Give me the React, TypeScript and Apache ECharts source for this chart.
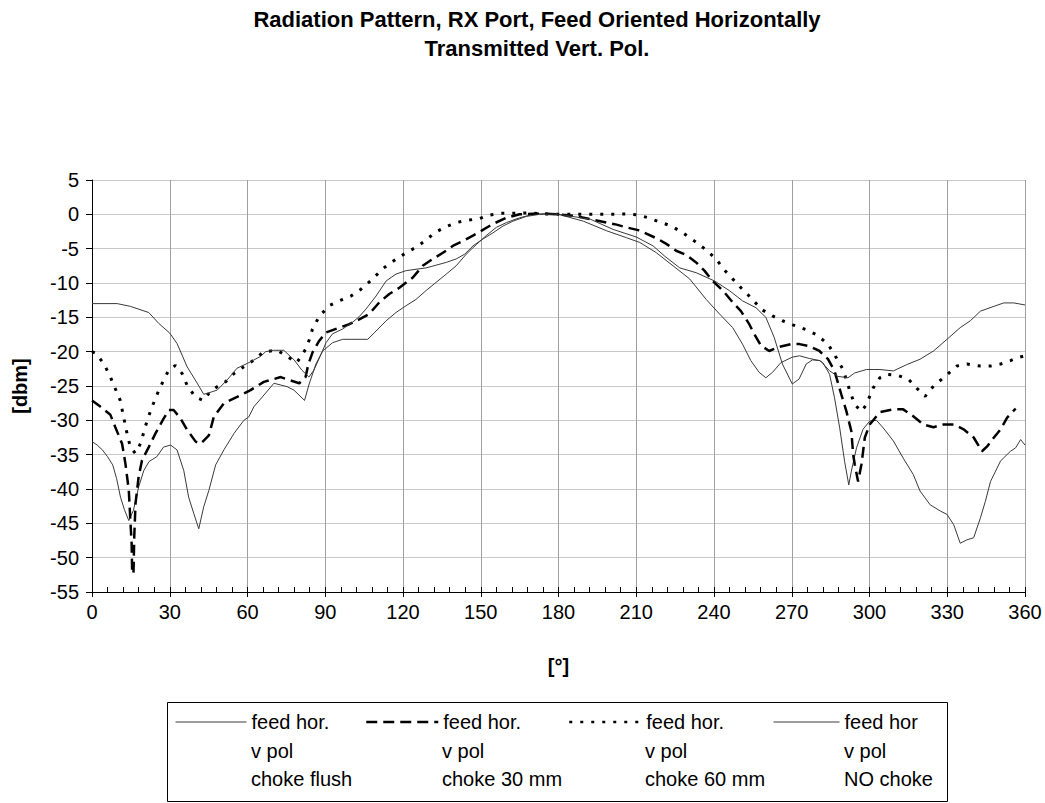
import React, { useEffect, useRef } from "react";
import * as echarts from "echarts";

const FONT = '"Liberation Sans", Arial, Helvetica, sans-serif';

const titleLines = [
  "Radiation Pattern, RX Port, Feed Oriented Horizontally",
  "Transmitted Vert. Pol.",
];

// ---- series: feed hor. / v pol / choke flush (thin solid) ----
const flushAngles = [
  0, 2, 4, 6, 8, 9.5, 11, 12.5, 14.2, 16, 18, 20, 22, 25, 27.6, 30.3, 32.8, 35.4, 37.3, 39.3,
  41.2, 43.1, 45.1, 47.7, 50.9, 54.8, 58.6, 60.5, 62.5, 65.7, 70.2, 75.3, 77.9, 82, 83.8, 86.4,
  89, 92.8, 96.7, 100, 106.4, 109.6, 113.5, 117.3, 121.2, 125, 128.9, 132.8, 136.7, 140.5,
  144.4, 148.3, 152.1, 156, 159.9, 165, 170.2, 175, 180, 189.6, 198.6, 206.2, 211.4, 217.8,
  224.2, 230.6, 237, 242.1, 247.2, 251, 254.2, 257.4, 260, 262.6, 265.8, 270.2, 273, 276.9,
  280.7, 282, 284.6, 286.5, 288.5, 290.4, 292, 293, 295, 297.5, 300.1, 302.7, 305.3, 309.2,
  313, 316.9, 319.5, 323.4, 327.3, 329.9, 332.5, 335, 337.6, 340.2, 342.8, 344.7, 346.7,
  350.6, 354.4, 356.4, 358.3, 360,
];
const flushValues = [
  -33.1, -33.6, -34.3, -35.3, -36.5, -38.5, -41.2, -43.0, -44.6, -43.1, -39.7, -37.3, -36.0,
  -35.3, -33.9, -33.6, -34.3, -37.3, -41.2, -43.6, -45.8, -42.6, -40.2, -36.5, -34.3, -31.9,
  -30.0, -29.5, -28.0, -26.6, -24.6, -25.1, -25.6, -27.1, -24.7, -21.8, -19.9, -18.7, -18.2,
  -18.2, -18.2, -17.0, -15.5, -14.3, -13.3, -12.4, -11.1, -9.9, -8.7, -7.5, -5.8, -4.4, -3.1,
  -1.9, -1.2, -0.5, 0, 0.1, 0, -1.0, -2.4, -3.4, -4.1, -5.6, -7.5, -9.4, -12.4, -14.5, -16.5,
  -18.9, -21.3, -23.0, -23.8, -23.0, -21.6, -20.8, -20.6, -21.0, -21.3, -21.6, -23.3, -26.7,
  -31.1, -36.0, -39.4, -37.4, -34.0, -31.3, -30.1, -30.0, -31.1, -33.0, -35.5, -37.9, -40.3,
  -42.3, -43.2, -43.7, -45.2, -47.9, -47.4, -47.1, -44.2, -41.8, -38.9, -35.9, -34.5, -34.0,
  -32.8, -33.6,
];

// ---- series: choke 30 mm (dashed) ----
const choke30Angles = [
  0, 3.2, 7.1, 9, 11.6, 12.9, 14.2, 14.8, 15.3, 15.5, 16.0, 16.3, 16.8, 18, 19.3, 21.9, 24.5,
  27.7, 29.6, 31.5, 34.1, 36.7, 40, 41.9, 45.1, 47, 50.9, 56, 61.2, 66.3, 72.8, 76.6, 80, 82.4,
  83.5, 85.1, 87.7, 90.3, 95.4, 99.3, 103.1, 107, 110.9, 114.7, 118.6, 123.8, 127.6, 131.5,
  135.4, 139.2, 143.1, 147, 150.2, 154.7, 159.9, 165, 170.2, 175.3, 180, 185.8, 192.2, 202.4,
  206.2, 210.7, 213.9, 218.4, 221.6, 225.4, 229.3, 233.1, 236.3, 239.5, 243.4, 247.2, 250.4,
  253.6, 255.5, 258.1, 261.3, 265.1, 269.6, 273, 276.9, 280.7, 284, 286.5, 289.1, 291.1, 293,
  293.7, 294.3, 295.6, 296.9, 298.2, 300.1, 304, 309.2, 313, 316.9, 320.8, 324.7, 328.6, 332.5,
  336.3, 340.2, 343.4, 345.4, 348, 350.6, 353.1, 356.4,
];
const choke30Values = [
  -27.1, -28.0, -29.2, -31.0, -33.4, -36.3, -40.2, -44.6, -48.0, -52.3, -52.3, -47.0, -42.1,
  -38.2, -35.8, -33.9, -31.9, -29.7, -28.5, -28.5, -29.7, -31.4, -33.1, -33.4, -32.2, -29.5,
  -27.5, -26.6, -25.6, -24.4, -23.7, -24.2, -24.6, -23.7, -21.8, -20.1, -18.4, -17.2, -16.5,
  -16.0, -15.3, -14.5, -12.8, -11.6, -10.7, -9.2, -7.5, -6.5, -5.6, -4.6, -3.9, -3.1, -2.4,
  -1.4, -0.5, 0, 0.1, 0.1, 0, -0.2, -0.7, -1.5, -1.9, -2.3, -2.8, -3.6, -4.3, -5.3, -5.9, -7.0,
  -8.2, -9.7, -11.1, -12.8, -14.1, -16.0, -17.4, -19.1, -19.9, -19.3, -18.9, -18.9, -19.2,
  -19.9, -21.1, -22.8, -26.2, -28.7, -31.6, -35.0, -36.4, -38.9, -36.4, -32.5, -30.6, -28.8,
  -28.4, -28.4, -29.4, -30.6, -31.0, -30.6, -30.6, -31.3, -32.5, -34.5, -33.8, -32.5, -31.3,
  -29.6, -28.3,
];

// ---- series: choke 60 mm (dotted) ----
const choke60Angles = [
  0, 1.3, 4.5, 7.1, 9, 10.9, 12.2, 13.5, 14.8, 16.7, 18.7, 21.3, 23.2, 25.8, 27.7, 29.6, 32.2,
  34.8, 36.7, 39.9, 43, 45.7, 48.3, 51.5, 54.7, 58.6, 62.5, 66.3, 71.5, 75.3, 79, 81, 82.5,
  83.8, 85, 87.6, 91.5, 95.4, 99.9, 103.8, 108.3, 112.2, 116.7, 121.2, 125, 128.7, 132.2, 136,
  140.5, 144.4, 149.6, 153.4, 157.9, 162.4, 167.6, 172.8, 178, 185, 193.4, 201.8, 206.2, 210.7,
  214.6, 219, 223.5, 228, 232.5, 237, 240.8, 244, 247.2, 250.4, 254.9, 258.1, 262.6, 266.4,
  270.4, 275.6, 279.4, 284, 287.2, 289.8, 292.4, 294.3, 296.9, 298.8, 301.4, 304, 306.6, 310.5,
  315, 318.2, 321.5, 324.7, 329.2, 333.7, 337.6, 342.8, 346.7, 350.6, 354.4, 357, 360,
];
const choke60Values = [
  -20.0, -20.2, -21.7, -23.7, -25.4, -27.1, -29.5, -31.9, -33.9, -34.8, -33.4, -30.0, -28.0,
  -25.6, -24.1, -22.7, -22.0, -23.2, -24.9, -26.6, -27.1, -25.8, -25.1, -24.4, -23.2, -22.2,
  -21.2, -20.0, -19.8, -20.7, -21.6, -20.5, -19.6, -18.3, -16.8, -14.9, -13.3, -12.6, -11.9,
  -10.9, -9.4, -7.9, -6.7, -5.6, -4.8, -3.8, -2.7, -1.9, -1.2, -0.9, -0.6, -0.1, 0.15, 0.15,
  0.2, 0.1, 0, 0, 0, 0, 0.05, -0.1, -0.5, -1.1, -1.7, -2.7, -3.9, -5.2, -6.5, -8.1, -9.4,
  -10.7, -12.4, -13.8, -14.8, -15.5, -16.1, -16.8, -17.5, -18.9, -20.9, -22.6, -25.7, -27.7,
  -28.7, -27.7, -25.3, -23.8, -23.3, -23.4, -24.0, -25.3, -26.5, -25.0, -23.6, -22.1, -21.8,
  -22.1, -22.1, -21.8, -21.3, -20.9, -20.6,
];

// ---- series: NO choke (thin solid) ----
const noChokeAngles = [
  0, 5, 9.7, 14.8, 21.9, 25.8, 30, 32.8, 36.7, 40.6, 43.1, 45, 48.3, 52.2, 56, 60, 65, 67, 70,
  74, 78, 81, 83.7, 85.6, 88, 90.3, 92.8, 96.7, 100.6, 103.1, 105.7, 109.6, 113.5, 117.3, 121.2,
  125, 128.9, 132.8, 136.7, 140.5, 143.8, 147, 150.8, 154.7, 158.6, 162.4, 167.6, 172.8, 178,
  180, 192.2, 201.1, 210, 216.5, 221, 226.8, 233.1, 240.2, 245.9, 251, 256.2, 260, 263.2,
  266.4, 270.2, 272.8, 275.6, 278, 281, 284.6, 287.8, 291.7, 294.3, 298.8, 304, 309.2, 314.3,
  319.5, 324.7, 329.9, 335, 338.9, 342.8, 348, 351.8, 355.7, 360,
];
const noChokeValues = [
  -13.0, -13.0, -13.0, -13.4, -14.3, -15.9, -17.3, -18.8, -22.2, -24.6, -26.2, -26.0, -25.6,
  -24.1, -22.4, -21.7, -20.7, -20.0, -19.8, -19.8, -21.2, -22.7, -23.7, -22.7, -20.7, -18.7,
  -17.4, -16.7, -15.7, -14.9, -13.8, -11.9, -9.7, -8.7, -8.2, -8.0, -7.8, -7.4, -7.0, -6.5,
  -5.8, -4.6, -3.6, -2.7, -1.7, -1.0, -0.3, 0, 0.05, 0, -0.7, -2.2, -3.3, -4.6, -6.1, -7.8,
  -8.5, -9.7, -11.1, -12.6, -13.6, -15.0, -17.9, -21.8, -24.7, -24.0, -21.8, -21.2, -21.3,
  -22.8, -23.6, -23.8, -23.1, -22.6, -22.6, -22.8, -21.9, -21.1, -19.9, -18.2, -16.5, -15.5,
  -14.1, -13.4, -12.9, -12.9, -13.2,
];

const seriesNames = ["choke flush", "choke 30 mm", "choke 60 mm", "NO choke"];
const legendLine1 = ["feed hor.", "feed hor.", "feed hor.", "feed hor"];
const legendLine2 = ["v pol", "v pol", "v pol", "v pol"];
const legendLine3 = ["choke flush", "choke 30 mm", "choke 60 mm", "NO choke"];

const zip = (a: number[], b: number[]) => a.map((x, i) => [x, b[i]]);

export default function App() {
  const ref = useRef<HTMLDivElement>(null);

  useEffect(() => {
    if (!ref.current) return;
    const chart = echarts.init(ref.current, null, { renderer: "svg" });

    const legendCols = [
      { left: 175, w: 71, lw: 1 },
      { left: 365, w: 72, lw: 2.5 },
      { left: 568, w: 72, lw: 2.5 },
      { left: 773, w: 66, lw: 1 },
    ];
    const textX = [251, 442, 645, 844];

    const legends = seriesNames.map((n, i) => ({
      data: [n],
      left: legendCols[i].left,
      top: 712,
      padding: 0,
      itemGap: 0,
      itemWidth: legendCols[i].w,
      itemHeight: 14,
      selectedMode: false,
      formatter: () => legendLine1[i],
      itemStyle: { opacity: 0, borderWidth: 0 },
      lineStyle: { width: legendCols[i].lw },
      textStyle: { fontFamily: FONT, fontSize: 20, color: "#000", lineHeight: 20 },
    }));

    const graphicTexts: any[] = [];
    for (let i = 0; i < 4; i++) {
      graphicTexts.push({
        type: "text",
        x: textX[i],
        y: 750.5,
        style: {
          text: legendLine2[i],
          fontFamily: FONT,
          fontSize: 20,
          fill: "#000",
          textVerticalAlign: "middle",
        },
      });
      graphicTexts.push({
        type: "text",
        x: textX[i],
        y: 779,
        style: {
          text: legendLine3[i],
          fontFamily: FONT,
          fontSize: 20,
          fill: "#000",
          textVerticalAlign: "middle",
        },
      });
    }

    const solidColor = "#3a3a3a";

    chart.setOption({
      animation: false,
      backgroundColor: "#fff",
      title: {
        text: titleLines.join("\n"),
        left: 537,
        textAlign: "center",
        top: 5,
        padding: 0,
        textStyle: {
          fontFamily: FONT,
          fontSize: 22,
          fontWeight: "bold",
          color: "#000",
          lineHeight: 29,
        },
      },
      legend: legends,
      grid: { left: 92, top: 180, width: 933, height: 412, containLabel: false },
      xAxis: [
        {
          type: "value",
          min: 0,
          max: 360,
          interval: 30,
          position: "bottom",
          name: "[°]",
          nameLocation: "middle",
          nameGap: 64,
          nameTextStyle: { fontFamily: FONT, fontSize: 20, fontWeight: "bold", color: "#000" },
          axisLine: { show: true, onZero: false, lineStyle: { color: "#000", width: 1 } },
          axisTick: { show: true, inside: false, length: 5, lineStyle: { color: "#000" } },
          axisLabel: { fontFamily: FONT, fontSize: 20, color: "#000", margin: 10 },
          splitLine: { show: true, lineStyle: { color: "#a0a0a0", width: 1 } },
        },
        {
          type: "value",
          min: 0,
          max: 360,
          interval: 6,
          position: "bottom",
          axisLine: { show: false, onZero: false },
          axisTick: { show: true, inside: true, length: 5, lineStyle: { color: "#000" } },
          axisLabel: { show: false },
          splitLine: { show: false },
        },
      ],
      yAxis: {
        type: "value",
        min: -55,
        max: 5,
        interval: 5,
        name: "[dbm]",
        nameLocation: "middle",
        nameRotate: 90,
        nameGap: 62,
        nameTextStyle: { fontFamily: FONT, fontSize: 20, fontWeight: "bold", color: "#000" },
        axisLine: { show: true, onZero: false, lineStyle: { color: "#000", width: 1 } },
        axisTick: { show: true, length: 6, lineStyle: { color: "#000" } },
        axisLabel: { fontFamily: FONT, fontSize: 20, color: "#000", margin: 13 },
        splitLine: { show: true, lineStyle: { color: "#c8c8c8", width: 1 } },
      },
      graphic: [
        {
          type: "rect",
          shape: { x: 167.5, y: 702.5, width: 780, height: 99 },
          style: { fill: "none", stroke: "#000", lineWidth: 1 },
          silent: true,
        },
        ...graphicTexts,
      ],
      series: [
        {
          name: seriesNames[0],
          type: "line",
          xAxisIndex: 0,
          data: zip(flushAngles, flushValues),
          symbol: "none",
          color: solidColor,
          lineStyle: { color: solidColor, width: 1 },
        },
        {
          name: seriesNames[1],
          type: "line",
          xAxisIndex: 0,
          data: zip(choke30Angles, choke30Values),
          symbol: "none",
          color: "#000",
          lineStyle: { color: "#000", width: 2.5, type: [11, 6] },
        },
        {
          name: seriesNames[2],
          type: "line",
          xAxisIndex: 0,
          data: zip(choke60Angles, choke60Values),
          symbol: "none",
          color: "#000",
          lineStyle: { color: "#000", width: 3, type: [3, 8] },
        },
        {
          name: seriesNames[3],
          type: "line",
          xAxisIndex: 0,
          data: zip(noChokeAngles, noChokeValues),
          symbol: "none",
          color: solidColor,
          lineStyle: { color: solidColor, width: 1 },
        },
      ],
    });

    return () => chart.dispose();
  }, []);

  return (
    <div
      ref={ref}
      style={{ position: "absolute", left: 0, top: 0, width: 1045, height: 803 }}
    />
  );
}
